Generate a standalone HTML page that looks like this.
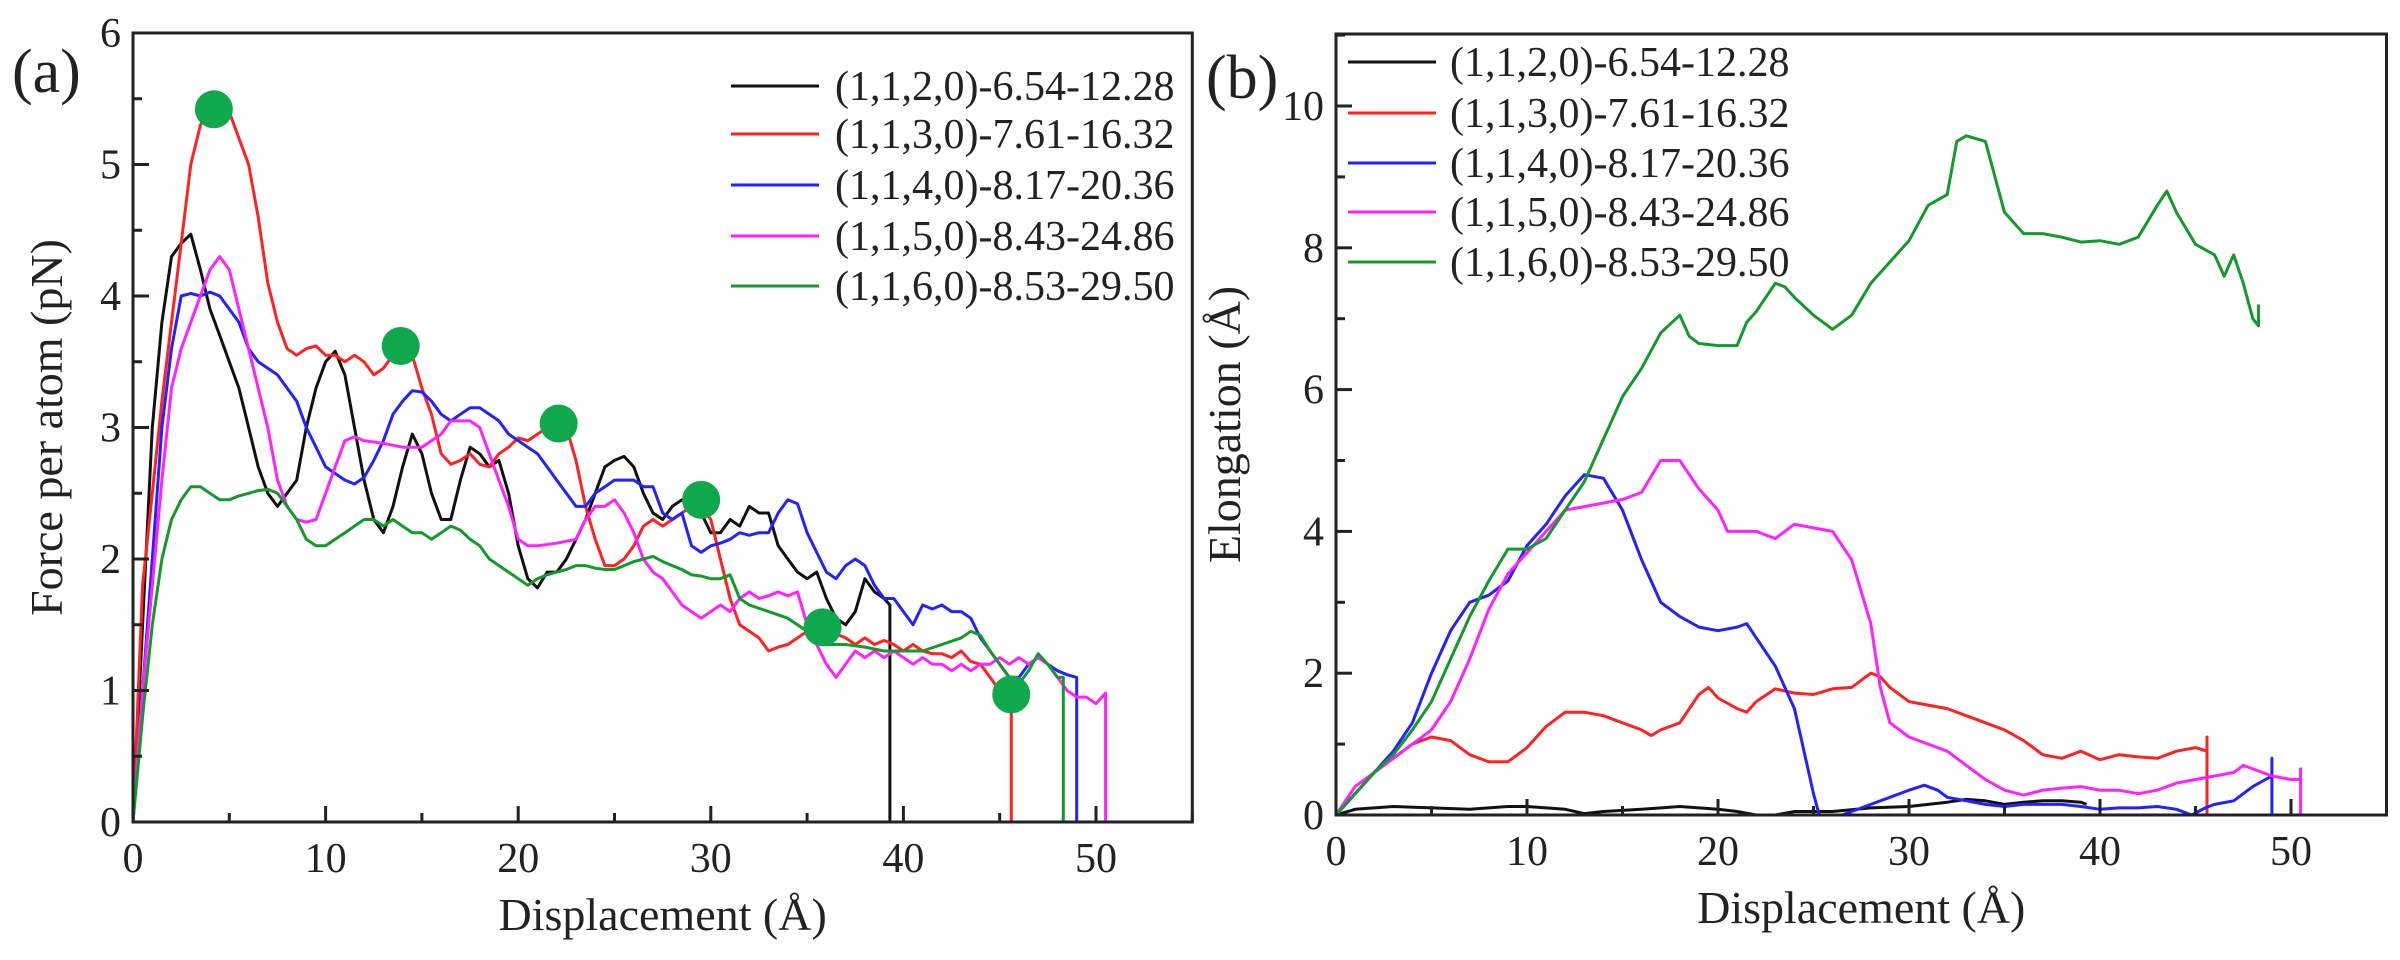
<!DOCTYPE html>
<html><head><meta charset="utf-8"><style>
html,body{margin:0;padding:0;background:#fff;}
svg{display:block;}
text{font-family:"Liberation Serif","Times New Roman","DejaVu Serif",serif;}
</style></head><body>
<svg id="s" width="2400" height="960" xmlns="http://www.w3.org/2000/svg" font-family="Liberation Serif, Times New Roman, DejaVu Serif, serif"></svg>
<script>
const S=document.getElementById('s');
let h='';
const FF='font-family="Liberation Serif, Times New Roman, DejaVu Serif, serif"';
function plot(o){
  const X=v=>o.x0+(v-0)*o.sx, Y=v=>o.y0-v*o.sy;
  for(const sr of o.series){
    const a=sr.d; let p='';
    for(let i=0;i<a.length;i+=2){p+=(i?'L':'M')+X(a[i]).toFixed(1)+','+Y(a[i+1]).toFixed(1);}
    h+=`<path d="${p}" fill="none" stroke="${sr.c}" stroke-width="3" stroke-linejoin="round"/>`;
  }
  h+=`<rect x="${o.x0}" y="${o.top}" width="${X(55)-o.x0}" height="${o.y0-o.top}" fill="none" stroke="#222" stroke-width="3"/>`;
  for(let v=0;v<=55;v+=5){const maj=v%10==0;
    h+=`<line x1="${X(v)}" x2="${X(v)}" y1="${o.y0}" y2="${o.y0-(maj?16:9)}" stroke="#222" stroke-width="3"/>`;
    if(maj&&v<=50)h+=`<text ${FF} x="${X(v)}" y="${o.y0+50}" font-size="42" text-anchor="middle" fill="#222">${v}</text>`;}
  for(let v=0;v<=o.ymax+1e-9;v+=o.ymin){const maj=Math.abs(v/o.ymaj-Math.round(v/o.ymaj))<1e-6;
    h+=`<line x1="${o.x0}" x2="${o.x0+(maj?16:9)}" y1="${Y(v)}" y2="${Y(v)}" stroke="#222" stroke-width="3"/>`;
    if(maj)h+=`<text ${FF} x="${o.x0-12}" y="${Y(v)+14}" font-size="42" text-anchor="end" fill="#222">${Math.round(v)}</text>`;}
  h+=`<text ${FF} x="${(o.x0+X(55))/2}" y="${o.y0+108}" font-size="46" text-anchor="middle" fill="#222">Displacement (Å)</text>`;
  h+=`<text ${FF} transform="translate(${o.ylx},${(o.top+o.y0)/2}) rotate(-90)" font-size="46" text-anchor="middle" fill="#222">${o.ylab}</text>`;
}
const L=['(1,1,2,0)-6.54-12.28','(1,1,3,0)-7.61-16.32','(1,1,4,0)-8.17-20.36','(1,1,5,0)-8.43-24.86','(1,1,6,0)-8.53-29.50'];
const C=['#111','#f22','#22f','#f2f','#139a2a'];
const A=[
[0,0,0.5,1.5,1,3,1.5,3.8,2,4.3,2.5,4.4,3,4.47,3.5,4.2,4,3.9,4.5,3.7,5,3.5,5.5,3.3,6,3.0,6.5,2.7,7,2.5,7.5,2.4,8,2.5,8.5,2.6,9,3.0,9.5,3.3,10,3.5,10.5,3.58,11,3.4,11.5,3.0,12,2.6,12.5,2.3,13,2.2,13.5,2.4,14,2.7,14.5,2.95,15,2.8,15.5,2.5,16,2.3,16.5,2.3,17,2.6,17.5,2.85,18,2.8,18.5,2.7,19,2.75,19.5,2.5,20,2.1,20.5,1.85,21,1.78,21.5,1.9,22,1.9,22.5,2.0,23,2.15,23.5,2.3,24,2.5,24.5,2.7,25,2.75,25.5,2.78,26,2.7,26.5,2.5,27,2.35,27.5,2.3,28,2.4,28.5,2.45,29,2.4,29.5,2.35,30,2.2,30.5,2.2,31,2.3,31.5,2.25,32,2.4,32.5,2.35,33,2.35,33.5,2.1,34,2.0,34.5,1.9,35,1.85,35.5,1.9,36,1.7,36.5,1.55,37,1.5,37.5,1.6,38,1.85,38.5,1.75,39,1.7,39.3,1.65,39.3,0],
[0,0,0.5,1.8,1,2.5,1.5,3.2,2,3.8,2.5,4.4,3,5.0,3.5,5.3,4,5.45,4.5,5.42,5,5.4,5.5,5.2,6,5.0,6.5,4.6,7,4.1,7.5,3.8,8,3.6,8.5,3.55,9,3.6,9.5,3.62,10,3.55,10.5,3.55,11,3.5,11.5,3.55,12,3.5,12.5,3.4,13,3.45,13.5,3.55,14,3.62,14.5,3.55,15,3.3,15.5,3.1,16,2.8,16.5,2.72,17,2.75,17.5,2.8,18,2.72,18.5,2.7,19,2.8,19.5,2.85,20,2.92,20.5,2.9,21,2.95,21.5,3.0,22,3.05,22.5,3.0,23,2.75,23.5,2.4,24,2.15,24.5,1.95,25,1.95,25.5,2.0,26,2.1,26.5,2.25,27,2.3,27.5,2.25,28,2.3,28.5,2.35,29,2.4,29.5,2.4,30,2.3,30.5,2.0,31,1.7,31.5,1.5,32,1.45,32.5,1.4,33,1.3,33.5,1.33,34,1.35,34.5,1.4,35,1.45,35.5,1.47,36,1.45,36.5,1.43,37,1.4,37.5,1.35,38,1.4,38.5,1.35,39,1.38,39.5,1.35,40,1.3,40.5,1.35,41,1.3,41.5,1.28,42,1.28,42.5,1.25,43,1.3,43.5,1.22,44,1.2,44.5,1.1,45,1.0,45.5,0.97,45.6,0.97,45.6,0],
[0,0,0.5,1,1,2,1.5,3,2,3.6,2.5,4.0,3,4.02,3.5,4.0,4,4.03,4.5,4.0,5,3.9,5.5,3.8,6,3.6,6.5,3.5,7,3.45,7.5,3.4,8,3.3,8.5,3.2,9,3.0,9.5,2.85,10,2.7,10.5,2.65,11,2.6,11.5,2.57,12,2.62,12.5,2.75,13,2.9,13.5,3.1,14,3.2,14.5,3.28,15,3.27,15.5,3.2,16,3.1,16.5,3.05,17,3.1,17.5,3.15,18,3.15,18.5,3.1,19,3.05,19.5,2.95,20,2.9,20.5,2.85,21,2.8,21.5,2.7,22,2.6,22.5,2.5,23,2.4,23.5,2.4,24,2.5,24.5,2.55,25,2.6,25.5,2.6,26,2.6,26.5,2.55,27,2.55,27.5,2.35,28,2.3,28.5,2.35,29,2.1,29.5,2.05,30,2.1,30.5,2.12,31,2.15,31.5,2.2,32,2.18,32.5,2.2,33,2.2,33.5,2.35,34,2.45,34.5,2.42,35,2.2,35.5,2.05,36,1.9,36.5,1.85,37,1.95,37.5,2.0,38,1.95,38.5,1.8,39,1.7,39.5,1.7,40,1.6,40.5,1.5,41,1.65,41.5,1.62,42,1.65,42.5,1.6,43,1.6,43.5,1.55,44,1.4,44.5,1.3,45,1.2,45.5,1.1,46,1.1,46.5,1.2,47,1.25,47.5,1.2,48,1.15,48.5,1.12,49,1.1,49,0],
[0,0,0.5,1.0,1,1.8,1.5,2.6,2,3.3,2.5,3.6,3,3.8,3.5,4.0,4,4.2,4.5,4.3,5,4.2,5.5,3.9,6,3.6,6.5,3.3,7,3.0,7.5,2.6,8,2.4,8.5,2.3,9,2.28,9.5,2.3,10,2.5,10.5,2.7,11,2.9,11.5,2.93,12,2.9,13,2.88,14,2.85,15,2.85,15.5,2.9,16,2.95,16.5,3.05,17,3.05,17.5,3.05,18,3.0,18.5,2.8,19,2.6,19.5,2.4,20,2.15,20.5,2.1,21,2.1,22,2.12,23,2.15,23.5,2.3,24,2.4,24.5,2.4,25,2.45,25.5,2.35,26,2.2,26.5,2.0,27,1.9,27.5,1.85,28,1.75,28.5,1.65,29,1.6,29.5,1.55,30,1.6,30.5,1.65,31,1.6,31.5,1.7,32,1.75,32.5,1.7,33,1.72,33.5,1.75,34,1.72,34.5,1.75,35,1.5,35.5,1.35,36,1.2,36.5,1.1,37,1.2,37.5,1.3,38,1.25,38.5,1.3,39,1.25,39.5,1.3,40,1.25,40.5,1.2,41,1.25,41.5,1.2,42,1.2,42.5,1.15,43,1.2,43.5,1.15,44,1.2,44.5,1.2,45,1.25,45.5,1.2,46,1.25,46.5,1.2,47,1.25,47.5,1.2,48,1.1,48.5,1.0,49,0.95,49.5,0.95,50,0.9,50.5,0.98,50.5,0],
[0,0,0.5,0.8,1,1.5,1.5,2.0,2,2.3,2.5,2.45,3,2.55,3.5,2.55,4,2.5,4.5,2.45,5,2.45,5.5,2.48,6,2.5,6.5,2.52,7,2.53,7.5,2.5,8,2.4,8.5,2.3,9,2.15,9.5,2.1,10,2.1,10.5,2.15,11,2.2,11.5,2.25,12,2.3,12.5,2.3,13,2.25,13.5,2.3,14,2.25,14.5,2.2,15,2.2,15.5,2.15,16,2.2,16.5,2.25,17,2.22,17.5,2.15,18,2.1,18.5,2.0,19,1.95,19.5,1.9,20,1.85,20.5,1.8,21,1.85,21.5,1.88,22,1.9,22.5,1.92,23,1.95,23.5,1.95,24,1.93,24.5,1.92,25,1.92,25.5,1.95,26,1.98,26.5,2.0,27,2.02,27.5,1.98,28,1.95,28.5,1.92,29,1.88,29.5,1.87,30,1.85,30.5,1.85,31,1.88,31.5,1.7,32,1.65,33,1.6,34,1.55,35,1.45,35.5,1.4,36,1.35,37,1.35,38,1.33,39,1.3,40,1.3,41,1.3,42,1.35,43,1.4,43.5,1.45,44,1.42,44.5,1.3,45,1.2,45.5,1.1,46,1.05,46.5,1.15,47,1.28,47.5,1.2,48,1.1,48.3,1.1,48.3,0]];
const B=[
[0,0,1,0.08,2,0.1,3,0.12,5,0.1,7,0.08,9,0.12,10,0.12,12,0.08,13,0.02,14,0.05,16,0.08,18,0.12,19,0.1,20,0.08,21,0.05,22,0,23,0,24,0.05,26,0.05,28,0.1,30,0.12,32,0.18,33,0.22,34,0.2,35,0.15,36,0.18,37,0.2,38,0.2,39,0.18,39.3,0.15],
[0,0,1,0.3,2,0.6,3,0.8,4,1.0,5,1.1,6,1.05,7,0.85,8,0.75,9,0.75,10,0.95,11,1.25,12,1.45,13,1.45,14,1.4,15,1.3,16,1.2,16.5,1.12,17,1.2,18,1.3,19,1.7,19.5,1.8,20,1.65,21,1.5,21.5,1.45,22,1.6,23,1.78,24,1.72,25,1.7,26,1.78,27,1.8,28,2.0,28.5,1.95,29,1.8,30,1.6,31,1.55,32,1.5,33,1.4,34,1.3,35,1.2,36,1.05,37,0.85,38,0.8,39,0.9,40,0.78,41,0.85,42,0.82,43,0.8,44,0.9,45,0.95,45.6,0.9,45.6,1.1,45.6,0],
[0,0,1,0.3,2,0.6,3,0.9,4,1.3,5,2.0,6,2.6,7,3.0,8,3.1,9,3.3,10,3.8,11,4.1,12,4.5,13,4.8,14,4.75,15,4.3,16,3.6,17,3.0,18,2.8,19,2.65,20,2.6,21,2.65,21.5,2.7,22,2.5,23,2.1,24,1.5,24.5,0.9,25,0.3,25.3,0,26.5,0,27,0.05,28,0.15,29,0.25,30,0.35,30.8,0.42,31.5,0.35,32,0.25,33,0.2,34,0.15,35,0.12,36,0.15,37,0.15,38,0.15,39,0.12,40,0.08,41,0.1,42,0.1,43,0.12,44,0.08,44.8,0,45.5,0.1,46,0.15,47,0.2,48,0.4,49,0.55,49,0.8,49,0],
[0,0,1,0.4,2,0.6,3,0.8,4,1.0,5,1.2,6,1.6,7,2.2,8,2.9,9,3.4,10,3.7,11,4.0,12,4.3,13,4.35,14,4.4,15,4.45,16,4.55,17,5.0,18,5.0,19,4.6,20,4.3,20.5,4.0,22,4.0,23,3.9,24,4.1,25,4.05,26,4.0,27,3.6,28,2.7,28.5,1.8,29,1.3,30,1.1,31,1.0,32,0.9,33,0.7,34,0.5,35,0.35,36,0.28,37,0.35,38,0.38,39,0.4,40,0.35,41,0.35,42,0.3,43,0.35,44,0.45,45,0.5,46,0.55,47,0.6,47.5,0.7,48,0.65,49,0.55,50,0.5,50.5,0.5,50.5,0.65,50.5,0],
[0,0,1,0.3,2,0.6,3,0.85,4,1.2,5,1.6,6,2.2,7,2.8,8,3.3,9,3.75,10,3.75,11,3.9,12,4.3,13,4.7,14,5.3,15,5.9,16,6.3,17,6.8,18,7.05,18.5,6.75,19,6.65,20,6.62,21,6.62,21.5,6.95,22,7.1,23,7.5,23.5,7.45,24,7.3,25,7.05,26,6.85,27,7.05,28,7.5,29,7.8,30,8.1,31,8.6,32,8.75,32.5,9.5,33,9.58,34,9.5,35,8.5,36,8.2,37,8.2,38,8.15,39,8.08,40,8.1,41,8.05,42,8.15,43,8.6,43.5,8.8,44,8.5,45,8.05,46,7.9,46.5,7.6,47,7.9,47.5,7.5,48,7.0,48.3,6.9,48.3,7.2]];
plot({x0:133,sx:19.26,y0:822,sy:131.5,top:33,ymax:6,ymin:0.5,ymaj:1,ylx:62,ylab:'Force per atom (pN)',
  series:A.map((d,i)=>({d,c:C[i]}))});
const ax=v=>133+v*19.26, ay=v=>822-v*131.5;
[[4.2,5.42],[13.9,3.62],[22.1,3.03],[29.5,2.45],[35.8,1.48],[45.6,0.97]].forEach(p=>{
  h+=`<circle cx="${ax(p[0])}" cy="${ay(p[1])}" r="19" fill="#10a84c"/>`;});
plot({x0:1336,sx:19.1,y0:815,sy:70.9,top:34,ymax:11,ymin:1,ymaj:2,ylx:1240,ylab:'Elongation (Å)',
  series:B.map((d,i)=>({d,c:C[i]}))});
function leg(lx,tx,ys){ys.forEach((y,i)=>{
  h+=`<line x1="${lx}" x2="${lx+88}" y1="${y}" y2="${y}" stroke="${C[i]}" stroke-width="3"/>`;
  h+=`<text ${FF} x="${tx}" y="${y+14}" font-size="42" fill="#222">${L[i]}</text>`;});}
leg(731,835,[86,134,185,236,286]);
leg(1348,1450,[62,113,163,212,262]);
h+=`<text ${FF} x="12" y="92" font-size="62" fill="#222">(a)</text>`;
h+=`<text ${FF} x="1206" y="98" font-size="62" fill="#222">(b)</text>`;
S.innerHTML=h;
</script>
</body></html>
